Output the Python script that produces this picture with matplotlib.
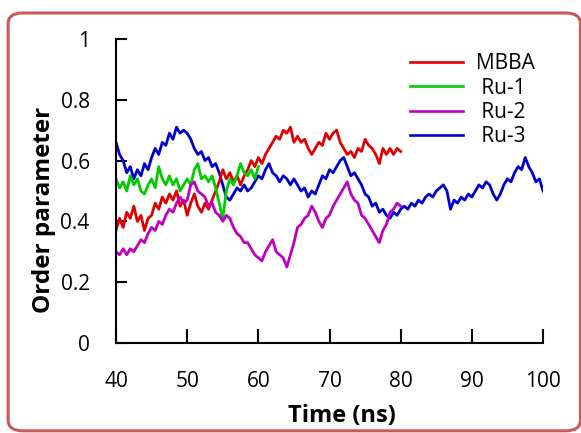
import numpy as np
import matplotlib
matplotlib.use('Agg')
import matplotlib.pyplot as plt
from matplotlib.patches import FancyBboxPatch

plt.rcParams['font.family'] = ['Open Sans', 'DejaVu Sans']

t_step = 0.5

mbba_t0, mbba_t1 = 40, 80
mbba = [0.37, 0.41, 0.38, 0.43, 0.41, 0.45, 0.40, 0.42, 0.37, 0.41,
        0.42, 0.46, 0.44, 0.48, 0.46, 0.49, 0.47, 0.50, 0.45, 0.47,
        0.42, 0.46, 0.49, 0.45, 0.43, 0.46, 0.44, 0.47, 0.50, 0.53,
        0.57, 0.54, 0.56, 0.53, 0.55, 0.52, 0.55, 0.57, 0.60, 0.58,
        0.61, 0.59, 0.62, 0.64, 0.66, 0.68, 0.67, 0.70, 0.69, 0.71,
        0.66, 0.68, 0.66, 0.67, 0.64, 0.62, 0.64, 0.66, 0.65, 0.69,
        0.67, 0.69, 0.70, 0.66, 0.64, 0.62, 0.63, 0.61, 0.64, 0.63,
        0.67, 0.65, 0.64, 0.62, 0.59, 0.64, 0.62, 0.64, 0.62, 0.64,
        0.63]

ru1_t0, ru1_t1 = 40, 60
ru1 = [0.54, 0.51, 0.53, 0.50, 0.55, 0.52, 0.54, 0.50, 0.49, 0.52,
       0.54, 0.51, 0.58, 0.54, 0.52, 0.55, 0.52, 0.54, 0.50, 0.52,
       0.54, 0.52, 0.57, 0.59, 0.54, 0.55, 0.53, 0.55, 0.51, 0.46,
       0.41, 0.50, 0.54, 0.52, 0.55, 0.59, 0.56, 0.55, 0.57, 0.54,
       0.58]

ru2_t0, ru2_t1 = 40, 80
ru2 = [0.30, 0.29, 0.31, 0.29, 0.31, 0.30, 0.32, 0.34, 0.33, 0.36,
       0.38, 0.37, 0.40, 0.39, 0.42, 0.44, 0.43, 0.46, 0.48, 0.46,
       0.47, 0.52, 0.53, 0.50, 0.49, 0.48, 0.45, 0.46, 0.43, 0.42,
       0.40, 0.42, 0.41, 0.38, 0.36, 0.35, 0.33, 0.33, 0.31, 0.29,
       0.28, 0.27, 0.30, 0.32, 0.34, 0.30, 0.29, 0.28, 0.25, 0.29,
       0.33, 0.38, 0.39, 0.41, 0.42, 0.45, 0.43, 0.40, 0.38, 0.41,
       0.42, 0.45, 0.47, 0.49, 0.51, 0.53, 0.49, 0.47, 0.46, 0.42,
       0.41, 0.39, 0.37, 0.35, 0.33, 0.37, 0.39, 0.43, 0.44, 0.46,
       0.45]

ru3_t0, ru3_t1 = 40, 100
ru3 = [0.66, 0.62, 0.60, 0.56, 0.58, 0.54, 0.57, 0.55, 0.59, 0.57,
       0.61, 0.64, 0.62, 0.66, 0.65, 0.69, 0.67, 0.71, 0.69, 0.70,
       0.69, 0.67, 0.64, 0.62, 0.63, 0.60, 0.61, 0.58, 0.59, 0.56,
       0.52, 0.48, 0.47, 0.49, 0.51, 0.50, 0.52, 0.50, 0.51, 0.53,
       0.55, 0.54, 0.57, 0.59, 0.56, 0.55, 0.53, 0.55, 0.54, 0.52,
       0.54, 0.52, 0.50, 0.51, 0.48, 0.50, 0.49, 0.52, 0.55, 0.54,
       0.57, 0.56, 0.58, 0.60, 0.61, 0.58, 0.55, 0.56, 0.54, 0.52,
       0.49, 0.48, 0.45, 0.46, 0.43, 0.44, 0.42, 0.41, 0.43, 0.42,
       0.44, 0.45, 0.44, 0.46, 0.45, 0.47, 0.46, 0.48, 0.49, 0.48,
       0.50, 0.51, 0.52, 0.50, 0.44, 0.47, 0.46, 0.48, 0.47, 0.49,
       0.48, 0.50, 0.52, 0.51, 0.53, 0.52, 0.49, 0.47, 0.49, 0.52,
       0.54, 0.53, 0.56, 0.58, 0.57, 0.61, 0.58, 0.56, 0.53, 0.54,
       0.50]

series = [
    ('MBBA', mbba_t0, mbba_t1, mbba, '#e00000'),
    ('Ru-1', ru1_t0, ru1_t1, ru1, '#00cc00'),
    ('Ru-2', ru2_t0, ru2_t1, ru2, '#c000c0'),
    ('Ru-3', ru3_t0, ru3_t1, ru3, '#0000cc'),
]

x_ticks = [40, 50, 60, 70, 80, 90, 100]
y_ticks = [0, 0.2, 0.4, 0.6, 0.8, 1]
y_tick_labels = ['0', '0.2', '0.4', '0.6', '0.8', '1']


def main():
    fig = plt.figure(figsize=(5.81, 4.33), dpi=100)

    # rounded red frame around the whole figure
    frame = FancyBboxPatch((0.014, 0.005), 0.985, 0.965,
                           boxstyle='round,pad=0,rounding_size=0.025',
                           transform=fig.transFigure, facecolor='none',
                           edgecolor='#c85a58', linewidth=2.2, clip_on=False)
    fig.patches.append(frame)

    ax = fig.add_axes([0.1997, 0.2079, 0.7349, 0.7021])

    # Ru-3 drawn first so the others sit on top
    for name, t0, t1, vals, col in [series[3], series[0], series[1], series[2]]:
        t = np.arange(t0, t1 + 0.001, t_step)
        assert len(t) == len(vals), name
        ax.plot(t, vals, color=col, linewidth=2.0, label=name)

    ax.set_xlim(40, 100)
    ax.set_ylim(0, 1)
    ax.set_xticks(x_ticks)
    ax.set_yticks(y_ticks)
    ax.set_yticklabels(y_tick_labels)

    for s in ['top', 'right']:
        ax.spines[s].set_visible(False)
    for s in ['left', 'bottom']:
        ax.spines[s].set_linewidth(1.5)

    ax.tick_params(axis='y', direction='in', length=8, width=1.5, pad=19, labelsize=15)
    ax.tick_params(axis='x', direction='in', length=10, width=1.5, pad=20.5, labelsize=15)

    ax.set_xlabel('Time (ns)', fontsize=17, fontweight='bold', labelpad=8,
                  x=0.528, ha='center')
    ax.set_ylabel('Order parameter', fontsize=17.5, fontweight='bold')
    ax.yaxis.set_label_coords(-0.141, 0.437)

    handles, labels = ax.get_legend_handles_labels()
    order = [labels.index(n) for n in ['MBBA', 'Ru-1', 'Ru-2', 'Ru-3']]
    # labels are centred in the reference, so the short ones get a little lead-in
    shown = ['MBBA', ' Ru-1', ' Ru-2', ' Ru-3']
    leg = ax.legend([handles[i] for i in order], shown,
                    loc='upper left', bbox_to_anchor=(0.669, 0.98),
                    borderaxespad=0, frameon=False,
                    fontsize=15, handlelength=2.55, handletextpad=0.63,
                    labelspacing=0.16)
    for line in leg.get_lines():
        line.set_linewidth(1.9)

    fig.savefig('out.png', dpi=100)


if __name__ == '__main__':
    main()
